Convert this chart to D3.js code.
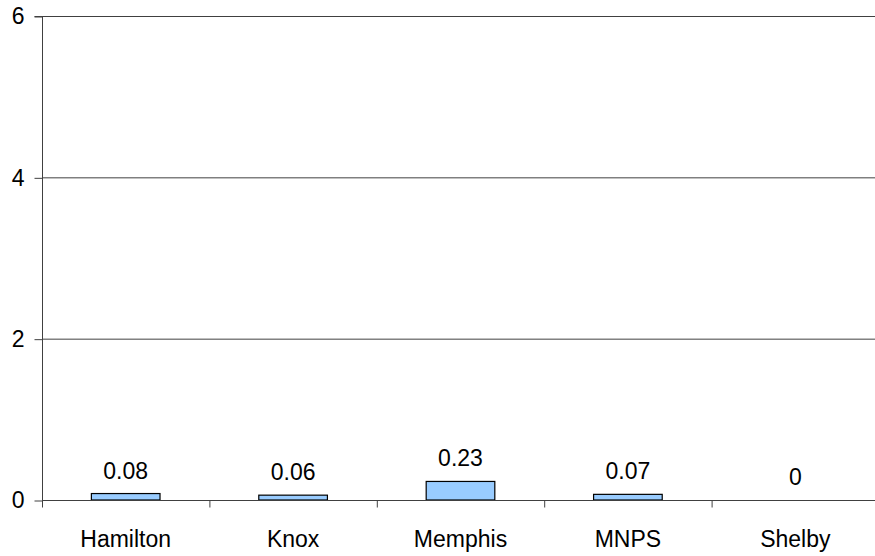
<!DOCTYPE html>
<html>
<head>
<meta charset="UTF-8">
<script src="https://d3js.org/d3.v7.min.js"></script>
<style>
    body { margin: 0; background: #fff; }
    svg { display: block; font-family: Arial, "Liberation Sans", sans-serif; }
</style>
</head>
<body>
<svg width="875" height="556"></svg>
<script>
    const categories = ["Hamilton", "Knox", "Memphis", "MNPS", "Shelby"];
    const values = [0.08, 0.06, 0.23, 0.07, 0];
    const yTicks = [0, 2, 4, 6];

    const svg = d3.select("svg");
    const plotLeft = 42, plotRight = 879, plotTop = 16, plotBottom = 500;
    const fontSize = "23px";

    const x = d3.scaleBand().domain(categories).range([plotLeft, plotRight]).padding(0);
    const y = d3.scaleLinear().domain([0, 6]).range([plotBottom, plotTop]);

    // gridlines
    svg.append("g")
        .selectAll("line")
        .data(yTicks.filter(d => d > 0))
        .join("line")
        .attr("x1", plotLeft).attr("x2", plotRight)
        .attr("y1", d => y(d) + 0.5).attr("y2", d => y(d) + 0.5)
        .attr("stroke", "#404040").attr("stroke-width", 1);

    // y axis
    const yAxis = svg.append("g")
        .attr("transform", `translate(${plotLeft + 0.5},0.5)`)
        .call(d3.axisLeft(y).tickValues(yTicks).tickSize(8).tickPadding(10).tickFormat(d3.format("d")));
    yAxis.select(".domain").attr("stroke", "#404040").attr("d", `M-8,${plotTop}H0V${plotBottom}`);
    yAxis.selectAll(".tick line").attr("stroke", "#404040");
    yAxis.selectAll(".tick text").attr("font-size", fontSize).attr("fill", "#000")
        .attr("font-family", "Arial, 'Liberation Sans', sans-serif");

    // bars
    const barW = x.bandwidth() * 0.41;
    svg.append("g")
        .selectAll("rect")
        .data(categories.map((c, i) => ({c, v: values[i]})))
        .join("rect")
        .attr("x", d => x(d.c) + (x.bandwidth() - barW) / 2)
        .attr("y", d => y(d.v))
        .attr("width", barW)
        .attr("height", d => y(0) - y(d.v))
        .attr("fill", "#99ccff")
        .attr("stroke", d => d.v > 0 ? "#000" : "none")
        .attr("stroke-width", 1.2);

    // x axis
    const xAxis = svg.append("g")
        .attr("transform", `translate(0,${plotBottom + 0.5})`);
    xAxis.append("line")
        .attr("x1", plotLeft).attr("x2", plotRight)
        .attr("stroke", "#404040");
    xAxis.selectAll(".sep")
        .data(categories.concat([null]))
        .join("line")
        .attr("class", "sep")
        .attr("x1", (d, i) => plotLeft + i * x.step() + 0.5)
        .attr("x2", (d, i) => plotLeft + i * x.step() + 0.5)
        .attr("y1", 0).attr("y2", 7)
        .attr("stroke", "#404040");
    xAxis.selectAll(".cat")
        .data(categories)
        .join("text")
        .attr("class", "cat")
        .attr("x", d => x(d) + x.bandwidth() / 2)
        .attr("y", 46)
        .attr("text-anchor", "middle")
        .attr("font-size", fontSize)
        .text(d => d);

    // value labels
    svg.append("g")
        .selectAll("text")
        .data(categories.map((c, i) => ({c, v: values[i]})))
        .join("text")
        .attr("x", d => x(d.c) + x.bandwidth() / 2)
        .attr("y", d => y(d.v) - 15)
        .attr("text-anchor", "middle")
        .attr("font-size", fontSize)
        .text(d => d.v === 0 ? "0" : d3.format(".2f")(d.v));
</script>
</body>
</html>
